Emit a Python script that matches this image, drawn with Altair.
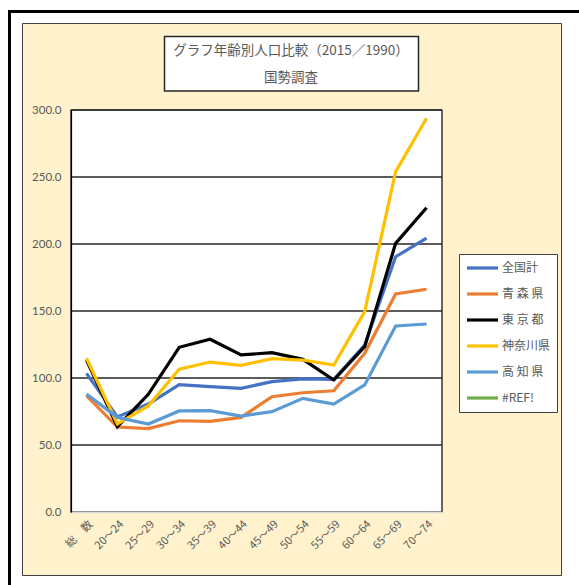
import altair as alt
import pandas as pd

# Age groups on the category axis
categories = ["総　数", "20～24", "25～29", "30～34", "35～39", "40～44",
              "45～49", "50～54", "55～59", "60～64", "65～69", "70～74"]

# Ratio of population 2015 / 1990 (%) by age group
zenkoku = [103.5, 71.0, 80.6, 95.0, 93.5, 92.3, 97.3, 99.3, 99.0, 124.6, 190.5, 204.3]
aomori = [86.8, 63.4, 62.2, 68.1, 67.6, 70.6, 86.0, 89.0, 90.5, 118.4, 162.7, 166.2]
tokyo = [113.4, 63.7, 87.8, 122.9, 128.9, 117.2, 118.9, 113.9, 98.5, 123.4, 200.5, 227.1]
kanagawa = [114.7, 65.7, 79.1, 106.5, 111.9, 109.5, 114.4, 113.4, 109.7, 149.5, 254.0, 293.8]
kochi = [88.1, 70.6, 65.7, 75.4, 75.6, 71.6, 74.9, 84.8, 80.6, 94.8, 138.8, 140.3]

series_names = ["全国計", "青 森 県", "東 京 都", "神奈川県", "高 知 県", "#REF!"]
series_values = [zenkoku, aomori, tokyo, kanagawa, kochi]
series_colors = ["#4472C4", "#ED7D31", "#000000", "#FFC000", "#5B9BD5", "#70AD47"]

title_lines = ["グラフ年齢別人口比較（2015／1990）", "国勢調査"]

y_ticks = [0, 50, 100, 150, 200, 250, 300]

rows = []
for name, vals in zip(series_names, series_values):
    for cat, v in zip(categories, vals):
        rows.append({"age": cat, "series": name, "ratio": v})
df = pd.DataFrame(rows)

W, H = 371, 402
GRAY = "#595959"
JP = "Noto Sans CJK JP"

one = alt.Data(values=[{}])

# outer black frame
frame = alt.Chart(one).mark_rect(fill=None, stroke="#000000", strokeWidth=3).encode(
    x=alt.value(-61.5), x2=alt.value(560), y=alt.value(-98.5), y2=alt.value(560))

# chart area background
chart_bg = alt.Chart(one).mark_rect(fill="#FFF2CC", stroke="#404040", strokeWidth=1).encode(
    x=alt.value(-48.5), x2=alt.value(490.5), y=alt.value(-86.5), y2=alt.value(465.5))

# title box and its two lines of text
title_box = alt.Chart(one).mark_rect(fill="#FFFFFF", stroke="#262626", strokeWidth=1.5).encode(
    x=alt.value(93.5), x2=alt.value(347.5), y=alt.value(-73.5), y2=alt.value(-19))

title_text = alt.Chart(one).mark_text(
    text=title_lines, font=JP, fontSize=13.5, color=GRAY, align="center",
    baseline="middle", lineHeight=27).encode(
    x=alt.value(220), y=alt.value(-59))

# plot area
plot_bg = alt.Chart(one).mark_rect(fill="#FFFFFF", stroke="#000000", strokeWidth=1.2).encode(
    x=alt.value(0), x2=alt.value(W), y=alt.value(0), y2=alt.value(H))

yscale = alt.Scale(domain=[0, 300], nice=False, zero=True)
yaxis = alt.Axis(title=None, values=y_ticks, format=".1f", grid=False,
                 ticks=False, domainColor="#000000", domainWidth=1.2,
                 labelFont="Lato", labelFontSize=11.5, labelColor=GRAY,
                 labelPadding=10, zindex=1)

grid = alt.Chart(pd.DataFrame({"v": y_ticks[1:]})).mark_rule(
    color="#262626", strokeWidth=1.3).encode(
    y=alt.Y("v:Q", scale=yscale, axis=yaxis),
    x=alt.value(0), x2=alt.value(W))

lines = alt.Chart(df).mark_line(strokeWidth=3.2, strokeJoin="miter").encode(
    x=alt.X("age:N", sort=categories,
            scale=alt.Scale(type="point", padding=0.5),
            axis=alt.Axis(title=None, labelAngle=-45, labelFont=JP, labelFontSize=11,
                          labelColor=GRAY, ticks=False, domainColor="#D9D9D9",
                          domainWidth=1.5, labelPadding=6, zindex=1)),
    y=alt.Y("ratio:Q", scale=yscale, axis=yaxis),
    color=alt.Color("series:N",
                    scale=alt.Scale(domain=series_names, range=series_colors),
                    legend=alt.Legend(title=None, orient="none", legendX=388, legendY=144,
                                      fillColor="#FFFFFF", strokeColor="#404040",
                                      padding=6, symbolType="stroke", symbolSize=961,
                                      symbolStrokeWidth=3.2, labelFont=JP, labelFontSize=12,
                                      labelColor=GRAY, labelOffset=2, rowPadding=10,
                                      clipHeight=16)),
    detail="series:N",
)

chart = alt.layer(frame, chart_bg, title_box, title_text, plot_bg, grid, lines).properties(
    width=W, height=H,
    autosize=alt.AutoSizeParams(type="none"),
    padding={"left": 71, "top": 110, "right": 137, "bottom": 73},
    background="#FFFFFF",
).configure_view(stroke=None)

chart.save("out.html", embed_options={"renderer": "svg", "actions": False})
